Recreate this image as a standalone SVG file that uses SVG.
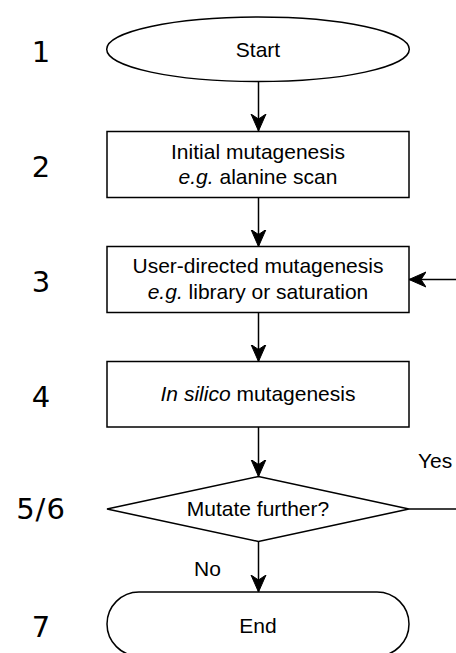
<svg xmlns="http://www.w3.org/2000/svg" width="456" height="653" viewBox="0 0 456 653">
  <style>
    .shape { fill: #ffffff; stroke: #000000; stroke-width: 1.5; }
    .edge { fill: none; stroke: #000000; stroke-width: 1.5; }
    .label { font-family: "Liberation Sans", Arial, Helvetica, sans-serif; font-size: 21px; fill: #000000; text-anchor: middle; }
    .edge-label { font-family: "Liberation Sans", Arial, Helvetica, sans-serif; font-size: 21px; fill: #000000; }
    .step { font-family: "DejaVu Sans", Verdana, sans-serif; font-size: 29px; fill: #000000; text-anchor: middle; }
  </style>
  <defs>
    <marker id="arrow" markerUnits="userSpaceOnUse" markerWidth="22" markerHeight="20" refX="17" refY="8" orient="auto">
      <path d="M17,8 L0,0.5 L5,8 L0,15.5 Z" fill="#000000" stroke="#000000" stroke-width="1" stroke-linejoin="miter"/>
    </marker>
  </defs>

  <rect x="0" y="0" width="456" height="653" fill="#ffffff"/>

  <!-- step numbers -->
  <g id="step-numbers">
    <text class="step" x="41" y="62">1</text>
    <text class="step" x="41" y="177">2</text>
    <text class="step" x="41" y="292">3</text>
    <text class="step" x="41" y="407">4</text>
    <text class="step" x="41" y="519" letter-spacing="1">5/6</text>
    <text class="step" x="41" y="637">7</text>
  </g>

  <!-- connectors -->
  <g id="connectors">
    <path class="edge" d="M258.5,81.5 L258.5,131" marker-end="url(#arrow)"/>
    <path class="edge" d="M258.5,197.5 L258.5,246.5" marker-end="url(#arrow)"/>
    <path class="edge" d="M258.5,312.5 L258.5,361.5" marker-end="url(#arrow)"/>
    <path class="edge" d="M258.5,427 L258.5,476.5" marker-end="url(#arrow)"/>
    <path class="edge" d="M258.5,541.5 L258.5,592" marker-end="url(#arrow)"/>
    <path class="edge" d="M409,509 L470,509 L470,279.5 L409,279.5" marker-end="url(#arrow)"/>
    <text class="edge-label" x="418" y="468">Yes</text>
    <text class="edge-label" x="194" y="576">No</text>
  </g>

  <g id="start">
    <ellipse class="shape" cx="258" cy="49.3" rx="151.3" ry="32.3"/>
    <text class="label" x="258" y="57">Start</text>
  </g>

  <g id="initial-mutagenesis">
    <rect class="shape" x="107" y="131.5" width="302" height="66"/>
    <text class="label" x="258" y="159">Initial mutagenesis</text>
    <text class="label" x="258" y="184"><tspan font-style="italic">e.g.</tspan> alanine scan</text>
  </g>

  <g id="user-directed-mutagenesis">
    <rect class="shape" x="107" y="246.5" width="302" height="66"/>
    <text class="label" x="258" y="273">User-directed mutagenesis</text>
    <text class="label" x="258" y="298.5"><tspan font-style="italic">e.g.</tspan> library or saturation</text>
  </g>

  <g id="in-silico-mutagenesis">
    <rect class="shape" x="107" y="361.5" width="302" height="65.5"/>
    <text class="label" x="258" y="401"><tspan font-style="italic">In silico</tspan> mutagenesis</text>
  </g>

  <g id="mutate-further">
    <polygon class="shape" points="107,509 258.5,476.5 409,509 258.5,541.5"/>
    <text class="label" x="258" y="516">Mutate further?</text>
  </g>

  <g id="end">
    <rect class="shape" x="107" y="592" width="302" height="64" rx="32" ry="32"/>
    <text class="label" x="258" y="633">End</text>
  </g>
</svg>
